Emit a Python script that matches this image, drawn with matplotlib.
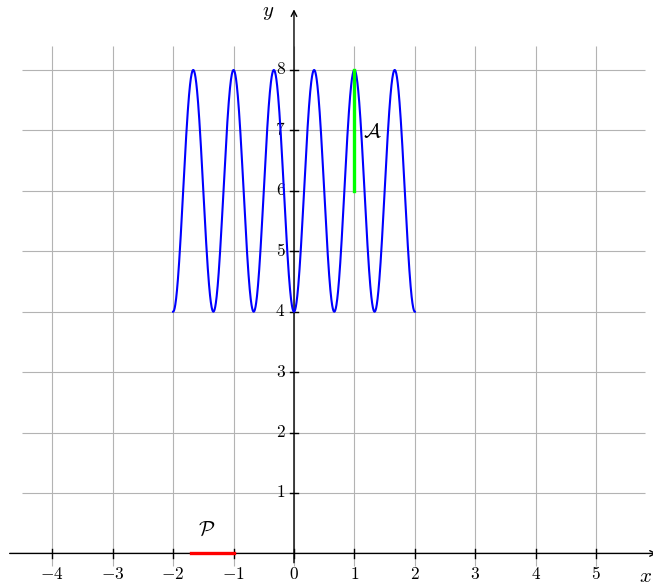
import numpy as np
import matplotlib
matplotlib.use("Agg")
import matplotlib.pyplot as plt

matplotlib.rcParams.update({
    "mathtext.fontset": "cm",
    "font.family": "serif",
    "font.serif": ["DejaVu Serif"],
})

# curve parameters: y = mid - amp * cos(freq * pi * x), x in [-2, 2]
curve_x_range = (-2.0, 2.0)
curve_mid = 6.0
curve_amp = 2.0
curve_freq = 3.0

# segment A (green, vertical) and segment P (red, on x axis)
seg_a_x = [1.0, 1.0]
seg_a_y = [6.0, 8.0]
seg_p_x = [-1.7, -1.0]
seg_p_y = [0.0, 0.0]

x_ticks = [-4, -3, -2, -1, 0, 1, 2, 3, 4, 5]
y_ticks = [1, 2, 3, 4, 5, 6, 7, 8]

grid_x = (-4.5, 5.8)
grid_y = (-0.2, 8.4)

fig = plt.figure(figsize=(6.53, 5.86), dpi=100)
ax = fig.add_axes([0, 0, 1, 1])
ax.set_xlim(-4.864, 5.94)
ax.set_ylim(-0.539, 9.158)
ax.set_axis_off()

# grid
ax.vlines(x_ticks, grid_y[0], grid_y[1], color="#b3b3b3", lw=0.8, zorder=1)
ax.hlines(y_ticks, grid_x[0], grid_x[1], color="#b3b3b3", lw=0.8, zorder=1)

# axis lines with arrows
ax.annotate("", xy=(6.05, 0), xytext=(-4.75, 0), annotation_clip=False,
            arrowprops=dict(arrowstyle="->", lw=1.0, color="black"), zorder=2)
ax.annotate("", xy=(0, 9.05), xytext=(0, -0.2), annotation_clip=False,
            arrowprops=dict(arrowstyle="->", lw=1.0, color="black"), zorder=2)

# ticks
tk = 0.07
for xv in x_ticks:
    ax.plot([xv, xv], [-tk, tk], color="black", lw=1.0, zorder=2)
    lab = f"$-{abs(xv)}$" if xv < 0 else f"${xv}$"
    ax.text(xv, -0.2, lab, ha="center", va="top", fontsize=12.5)
for yv in y_ticks:
    ax.plot([-tk, tk], [yv, yv], color="black", lw=1.0, zorder=2)
    ax.text(-0.14, yv, f"${yv}$", ha="right", va="center", fontsize=12.5)

ax.text(5.93, -0.22, "$x$", ha="right", va="top", fontsize=15)
ax.text(-0.42, 8.95, "$y$", ha="center", va="center", fontsize=15)

# curve
xs = np.linspace(curve_x_range[0], curve_x_range[1], 1200)
ys = curve_mid - curve_amp * np.cos(curve_freq * np.pi * xs)
ax.plot(xs, ys, color="blue", lw=1.5, zorder=3)

# segments
ax.plot(seg_a_x, seg_a_y, color="#00ff00", lw=2.4, zorder=4)
ax.plot(seg_p_x, seg_p_y, color="red", lw=2.4, zorder=4)

ax.text(1.3, 6.97, r"$\mathcal{A}$", ha="center", va="center", fontsize=15)
ax.text(-1.45, 0.38, r"$\mathcal{P}$", ha="center", va="center", fontsize=15)

fig.savefig("out.png", dpi=100)
